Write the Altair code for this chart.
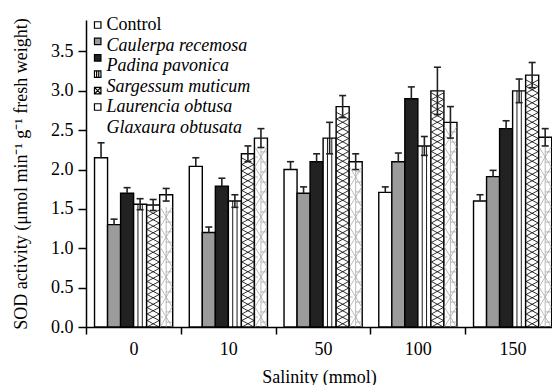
import json
import altair as alt
import pandas as pd

# ---------------- data ----------------
salinity = ["0", "10", "50", "100", "150"]
series = ["Control", "Caulerpa recemosa", "Padina pavonica",
          "Sargessum muticum", "Laurencia obtusa", "Glaxaura obtusata"]

control = [2.15, 2.04, 2.00, 1.71, 1.60]
control_err = [0.19, 0.11, 0.10, 0.07, 0.08]
caulerpa = [1.30, 1.20, 1.70, 2.10, 1.91]
caulerpa_err = [0.07, 0.07, 0.08, 0.11, 0.08]
padina = [1.70, 1.79, 2.10, 2.90, 2.52]
padina_err = [0.07, 0.10, 0.10, 0.15, 0.10]
sargassum = [1.56, 1.60, 2.40, 2.30, 3.00]
sargassum_err = [0.07, 0.08, 0.20, 0.12, 0.15]
laurencia = [1.55, 2.20, 2.80, 3.00, 3.20]
laurencia_err = [0.07, 0.10, 0.14, 0.30, 0.16]
glaxaura = [1.68, 2.40, 2.10, 2.60, 2.41]
glaxaura_err = [0.08, 0.12, 0.10, 0.20, 0.11]

y_ticks = [0.0, 0.5, 1.0, 1.5, 2.0, 2.5, 3.0, 3.5]

values = [control, caulerpa, padina, sargassum, laurencia, glaxaura]
errors = [control_err, caulerpa_err, padina_err, sargassum_err, laurencia_err, glaxaura_err]

# ---------------- styles / layout ----------------
FONT = "Liberation Serif"
PLOT_W, PLOT_H = 466, 307
GROUP_PX = 94.75
X_MAX = PLOT_W / GROUP_PX
Y_MAX = 3.9
PX_Y = PLOT_H / Y_MAX
PAD = 0.09
BW = 0.1375
CAP = 3.5 / GROUP_PX
fills = ["#ffffff", "#9b9b9b", "#222222", "#ffffff", "#ffffff", "#ffffff"]
patterned = {"Sargessum muticum", "Laurencia obtusa", "Glaxaura obtusata"}

SQ = "M-1,-1L1,-1L1,1L-1,1Z"
legend_paths = [SQ, SQ, SQ,
                SQ + "M-0.33,-1L-0.33,1M0.33,-1L0.33,1",
                SQ + "M-1,-1L1,1M1,-1L-1,1",
                SQ]

# ---------------- derived tables ----------------
rows, stripes, hatch, glax = [], [], [], []
for si, s in enumerate(series):
    for gi, g in enumerate(salinity):
        v = values[si][gi]
        e = errors[si][gi]
        left = gi + PAD + si * BW
        right = left + BW
        c = (left + right) / 2
        low = v - e if s in patterned else v
        rows.append(dict(series=s, salinity=g, value=v, left=left, right=right,
                         center=c, low=low, high=v + e,
                         capl=c - CAP, capr=c + CAP))
        if s == "Sargessum muticum":
            for f in (1 / 3, 2 / 3):
                stripes.append(dict(x=left + BW * f, value=v))
        if s == "Laurencia obtusa":
            rh = 6.5 / PX_Y
            for k in range(int(v / rh)):
                hatch.append(dict(x=c, y=(k + 0.5) * rh))
        if s == "Glaxaura obtusata":
            rh = 20 / PX_Y
            for k in range(int(v / rh)):
                glax.append(dict(x=c, y=(k + 0.5) * rh))

df = pd.DataFrame(rows)
df_str = pd.DataFrame(stripes)
df_hatch = pd.DataFrame(hatch)
df_glax = pd.DataFrame(glax)
df_caps_hi = df[["capl", "capr", "high"]].rename(columns={"high": "y"})
df_caps_lo = df[df.series.isin(patterned)][["capl", "capr", "low"]].rename(columns={"low": "y"})
df_caps = pd.concat([df_caps_hi, df_caps_lo], ignore_index=True)
df_leg = pd.DataFrame(dict(series=series, rank=list(range(len(series)))))

# ---------------- scales ----------------
xs = alt.Scale(domain=[0, X_MAX], nice=False, zero=False)
ys = alt.Scale(domain=[0, Y_MAX], nice=False)
fill_scale = alt.Scale(domain=series, range=fills)

label_list = json.dumps(salinity)
x_axis = alt.Axis(
    values=[i * 0.5 for i in range(2 * len(salinity))],
    labelExpr=f"datum.value % 1 === 0.5 ? {label_list}[floor(datum.value)] : ''",
    tickOpacity={"condition": {"test": "datum.value % 1 === 0", "value": 1}, "value": 0},
    tickSize=7, labelPadding=6, labelOverlap=False, labelFlush=False,
    labelFont=FONT, titleFont=FONT,
    title="Salinity (mmol)", titleY=55, titleBaseline="alphabetic",
)
y_axis = alt.Axis(
    values=y_ticks, format=".1f", tickSize=8, labelPadding=5,
    labelFont=FONT, titleFont=FONT,
    title="SOD activity (μmol min⁻¹ g⁻¹ fresh weight)",
    titleX=-60, titleY=PLOT_H / 2, titleAngle=270, titleBaseline="alphabetic",
    titleAlign="center",
)

bars = alt.Chart(df).mark_bar(stroke="black", strokeWidth=1.4, clip=True).encode(
    x=alt.X("left:Q", scale=xs, axis=x_axis),
    x2="right:Q",
    y=alt.Y("value:Q", scale=ys, axis=y_axis),
    y2=alt.datum(0),
    fill=alt.Fill("series:N", scale=fill_scale, legend=None),
)

stripe_layer = alt.Chart(df_str).mark_rule(color="black", strokeWidth=0.9, clip=True).encode(
    x=alt.X("x:Q", scale=xs),
    y=alt.Y("value:Q", scale=ys, axis=None),
    y2=alt.datum(0),
)

hatch_layer = alt.Chart(df_hatch).mark_point(
    shape="M-1,-0.54L1,0.54M1,-0.54L-1,0.54", size=144, filled=False,
    stroke="black", strokeWidth=0.8, opacity=1, clip=True,
).encode(x=alt.X("x:Q", scale=xs), y=alt.Y("y:Q", scale=ys, axis=None))

glax_layer = alt.Chart(df_glax).mark_point(
    shape="M-1,-1.667L0,0L-1,1.667M1,-1.667L0,0L1,1.667M0,-1.667L0,1.667"
          "M0,-0.85L1,-0.85M0,0.85L1,0.85M-1,0L-0.5,0",
    size=144, filled=False, stroke="#a8a8a8", strokeWidth=0.8, opacity=1, clip=True,
).encode(x=alt.X("x:Q", scale=xs), y=alt.Y("y:Q", scale=ys, axis=None))

err_layer = alt.Chart(df).mark_rule(color="#222222", strokeWidth=1.6, clip=True).encode(
    x=alt.X("center:Q", scale=xs),
    y=alt.Y("low:Q", scale=ys, axis=None),
    y2="high:Q",
)
cap_layer = alt.Chart(df_caps).mark_rule(color="#222222", strokeWidth=1.6, clip=True).encode(
    x=alt.X("capl:Q", scale=xs),
    x2="capr:Q",
    y=alt.Y("y:Q", scale=ys, axis=None),
)

leg_boxes = alt.Chart(df_leg).mark_point(
    filled=True, stroke="black", strokeWidth=1.2, size=42, opacity=1
).encode(
    x=alt.value(11.7),
    y=alt.Y("rank:O", scale=alt.Scale(type="point", range=[5, 87], padding=0), axis=None),
    fill=alt.Fill("series:N", scale=fill_scale, legend=None),
    shape=alt.Shape("series:N", scale=alt.Scale(domain=series, range=legend_paths), legend=None),
)

text_scale = alt.Scale(type="point", domain=list(range(len(series))), range=[5, 107.5], padding=0)
leg_text_ctrl = alt.Chart(df_leg[df_leg.series == "Control"]).mark_text(
    align="left", baseline="middle", font=FONT, fontSize=18, color="black"
).encode(x=alt.value(20.5), y=alt.Y("rank:O", scale=text_scale, axis=None), text="series:N")
leg_text_sp = alt.Chart(df_leg[df_leg.series != "Control"]).mark_text(
    align="left", baseline="middle", font=FONT, fontSize=18, fontStyle="italic", color="black"
).encode(x=alt.value(20.5), y=alt.Y("rank:O", scale=text_scale, axis=None), text="series:N")

chart = alt.layer(
    bars, stripe_layer, hatch_layer, glax_layer, err_layer, cap_layer,
    leg_boxes, leg_text_ctrl, leg_text_sp,
).resolve_scale(y="independent").properties(
    width=PLOT_W, height=PLOT_H,
    autosize=alt.AutoSizeParams(type="none"),
    padding={"left": 86, "top": 20, "right": 0, "bottom": 58},
).configure(font=FONT).configure_view(stroke=None).configure_axis(
    grid=False, domainColor="black", tickColor="black", labelColor="black",
    titleColor="black", labelFont=FONT, titleFont=FONT, labelFontSize=18,
    titleFontSize=18, titleFontWeight="normal", domainWidth=1.5, tickWidth=1.5,
)

chart.save("out.html", embed_options={"renderer": "svg", "actions": False})
